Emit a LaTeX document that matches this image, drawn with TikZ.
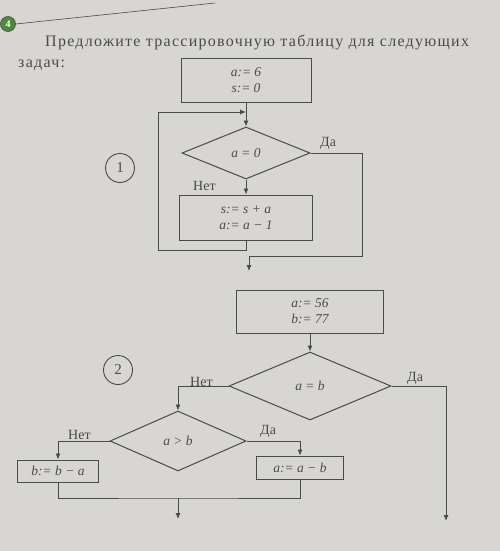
\documentclass[tikz,border=0pt]{standalone}
\usepackage{fontspec}
\setmainfont{Liberation Serif}
\usetikzlibrary{shapes.geometric,arrows.meta}
\definecolor{paper}{HTML}{D8D6D2}
\definecolor{ink}{HTML}{4A4A4A}
\definecolor{badge}{HTML}{4F8A3C}
\begin{document}
\begin{tikzpicture}[x=1pt,y=-1pt,
  line/.style={draw=ink, line width=0.9pt},
  arr/.style={line, -{Latex[length=6pt,width=5pt]}},
  blk/.style={draw=ink, line width=1pt, inner sep=0pt, align=center, text=ink, font=\fontsize{13.5}{16}\selectfont\itshape},
  cond/.style={diamond, draw=ink, line width=1pt, inner sep=0pt, text=ink, font=\fontsize{13.5}{16}\selectfont\itshape},
  lbl/.style={text=ink, font=\fontsize{14}{16}\selectfont, inner sep=0pt},
  num/.style={circle, draw=ink, line width=0.9pt, minimum size=29pt, inner sep=0pt, text=ink, font=\fontsize{15}{17}\selectfont}
]
\fill[paper] (0,0) rectangle (500,551);
\useasboundingbox (0,0) rectangle (500,551);

% header
\node[circle, fill=badge, draw=ink, line width=0.6pt, minimum size=15pt, inner sep=0pt, text=white, font=\bfseries\fontsize{10}{10}\selectfont] (badge) at (8,24) {4};
\coordinate (hr) at (215,3);
\draw[ink, line width=0.6pt] (badge.east) -- (hr);
\node[lbl, anchor=base west, font=\fontsize{16}{18}\selectfont\addfontfeatures{LetterSpace=8}] (title) at (45,47) {Предложите трассировочную таблицу для следующих};
\node[lbl, anchor=base west, font=\fontsize{16}{18}\selectfont\addfontfeatures{LetterSpace=8}] (title2) at (18,67) {задач:};

% ---------- flowchart 1 ----------
\node[num] (n1) at (120,168) {1};
\node[blk, minimum width=130pt, minimum height=43pt] (b1) at (246,80.5) {a:= 6\\s:= 0};
\node[cond, minimum width=128pt, minimum height=52pt] (d1) at (246,153) {a = 0};
\node[blk, minimum width=133pt, minimum height=45pt] (b2) at (246,217.5) {s:= s + a\\a:= a − 1};
\coordinate (j1) at (246,112);
\coordinate (l1) at (158,250);
\coordinate (l2) at (158,112);
\coordinate (x1) at (362,256);
\coordinate (e1) at (249,271);

\draw[arr] (b1.south) -- (d1.north);
\draw[arr] (d1.south) -- (b2.north);
\draw[arr] (b2.south) |- (l1) -- (l2) -- (j1);
\draw[arr] (d1.east) -| (x1) -| (e1);
\node[lbl, anchor=base west] (da1) at (320,146) {Да};
\node[lbl, anchor=base west] (net1) at (193,190) {Нет};

% ---------- flowchart 2 ----------
\node[num] (n2) at (118,370) {2};
\node[blk, minimum width=147pt, minimum height=43pt] (b3) at (310,311.5) {a:= 56\\b:= 77};
\node[cond, minimum width=162pt, minimum height=68pt] (d2) at (310,386) {a = b};
\node[cond, minimum width=136pt, minimum height=60pt] (d3) at (178,441) {a > b};
\node[blk, minimum width=81pt, minimum height=22pt] (b4) at (58,471) {b:= b − a};
\node[blk, minimum width=87pt, minimum height=23pt] (b5) at (300,467.5) {a:= a − b};
\coordinate (e2) at (446,521);
\coordinate (m2) at (178,498);
\coordinate (e3) at (178,519);

\draw[arr] (b3.south) -- (d2.north);
\draw[arr] (d2.west) -| (d3.north);
\draw[arr] (d2.east) -| (e2);
\draw[arr] (d3.west) -| (b4.north);
\draw[arr] (d3.east) -| (b5.north);
\draw[line] (b4.south) |- (m2) -| (b5.south);
\draw[arr] (m2) -- (e3);
\node[lbl, anchor=base west] (net2) at (190,386) {Нет};
\node[lbl, anchor=base west] (da2) at (407,381) {Да};
\node[lbl, anchor=base west] (net3) at (68,439) {Нет};
\node[lbl, anchor=base west] (da3) at (260,434) {Да};
\end{tikzpicture}
\end{document}
